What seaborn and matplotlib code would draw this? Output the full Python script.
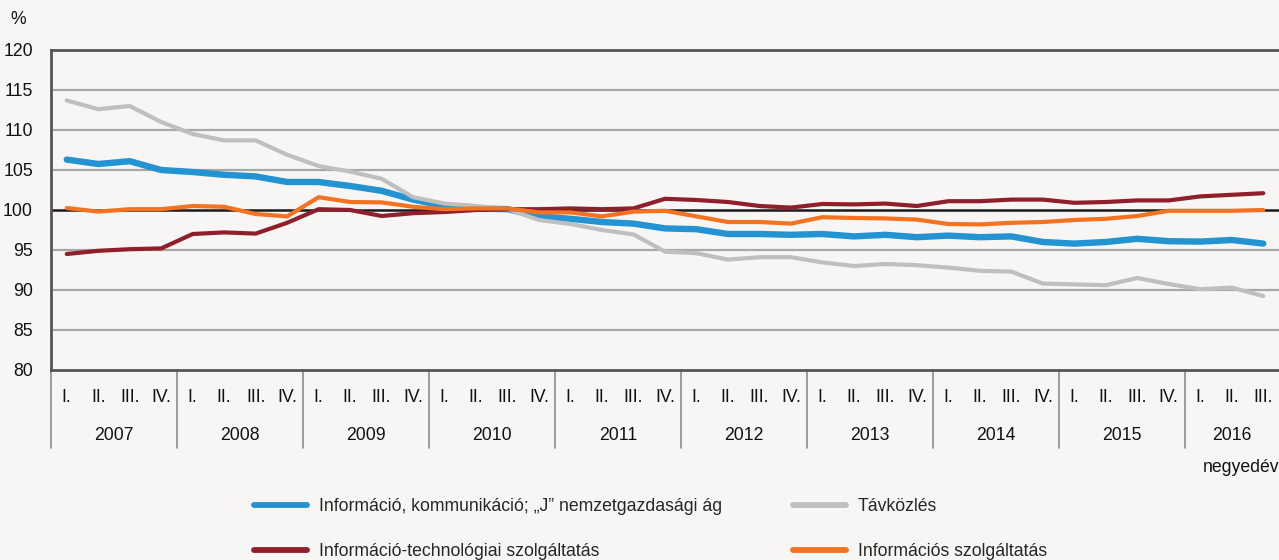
import numpy as np
import pandas as pd
import matplotlib
matplotlib.use('Agg')
import matplotlib.pyplot as plt
from matplotlib.lines import Line2D
from matplotlib import font_manager
import seaborn as sns

# ---- data ----
years = ['2007', '2008', '2009', '2010', '2011', '2012', '2013', '2014', '2015', '2016']
quarter_labels = ['I.', 'II.', 'III.', 'IV.']
n_q = 39  # 2007 I. .. 2016 III.

info_komm = [106.3, 105.75, 106.1, 105.0, 104.75, 104.4, 104.2, 103.5,
             103.5, 103.0, 102.4, 101.3, 100.5, 100.2, 100.1, 99.2,
             98.9, 98.5, 98.3, 97.7, 97.6, 97.0, 97.0, 96.9,
             97.0, 96.7, 96.9, 96.6, 96.8, 96.6, 96.7, 96.0,
             95.8, 96.0, 96.4, 96.1, 96.05, 96.25, 95.8]
tavkozles = [113.7, 112.6, 113.0, 111.0, 109.5, 108.7, 108.7, 106.9,
             105.5, 104.8, 103.9, 101.6, 100.8, 100.5, 100.1, 98.75,
             98.25, 97.5, 96.95, 94.8, 94.6, 93.8, 94.1, 94.1,
             93.45, 93.0, 93.25, 93.1, 92.8, 92.4, 92.3, 90.8,
             90.7, 90.6, 91.5, 90.75, 90.1, 90.3, 89.25]
it_szolg = [94.5, 94.9, 95.1, 95.2, 97.0, 97.2, 97.05, 98.4,
            100.1, 100.0, 99.25, 99.6, 99.75, 100.0, 100.1, 100.1,
            100.2, 100.1, 100.2, 101.4, 101.25, 101.0, 100.5, 100.3,
            100.75, 100.7, 100.8, 100.5, 101.1, 101.1, 101.3, 101.3,
            100.9, 101.0, 101.2, 101.2, 101.7, 101.9, 102.1]
info_szolg = [100.25, 99.8, 100.1, 100.1, 100.5, 100.4, 99.5, 99.2,
              101.6, 101.0, 100.95, 100.4, 100.1, 100.2, 100.2, 99.7,
              99.7, 99.2, 99.8, 99.9, 99.2, 98.5, 98.5, 98.3,
              99.1, 99.0, 98.95, 98.8, 98.25, 98.2, 98.4, 98.5,
              98.75, 98.9, 99.25, 99.9, 99.9, 99.9, 100.0]

series_names = ['Információ, kommunikáció; „J” nemzetgazdasági ág',
                'Távközlés',
                'Információ-technológiai szolgáltatás',
                'Információs szolgáltatás']
series_values = [info_komm, tavkozles, it_szolg, info_szolg]
COLORS = ['#2393D1', '#BDBFC1', '#8E1F2B', '#F37321']
WIDTHS = [4.6, 3.0, 3.0, 3.0]

BG = '#F7F6F4'

# ---- style ----
sns.set_theme(style='white')
avail = {f.name for f in font_manager.fontManager.ttflist}
main_font = 'Liberation Sans Narrow' if 'Liberation Sans Narrow' in avail else 'Liberation Sans'
plt.rcParams['font.family'] = [main_font, 'DejaVu Sans']
FS = 12.7

df = pd.DataFrame({'q': np.tile(np.arange(n_q), 4),
                   'value': np.concatenate(series_values),
                   'series': np.repeat(series_names, n_q)})

fig = plt.figure(figsize=(12.79, 5.6), dpi=100, facecolor=BG)
ax = fig.add_axes([51 / 1279, 190 / 560, 1228 / 1279, 320 / 560])
ax.set_facecolor(BG)

# grid + reference line
for v in range(85, 120, 5):
    ax.axhline(v, color='#A7A8A8' if v != 100 else '#1A1A1A',
               lw=1.6 if v != 100 else 1.8, zorder=1)

draw_order = [1, 0, 2, 3]
for i in draw_order:
    sub = df[df['series'] == series_names[i]]
    sns.lineplot(data=sub, x='q', y='value', color=COLORS[i], lw=WIDTHS[i],
                 ax=ax, legend=False, zorder=3 + i,
                 solid_capstyle='round', solid_joinstyle='round')

ax.set_xlim(-0.5, n_q - 0.5)
ax.set_ylim(80, 120)
ax.set_yticks(range(80, 121, 5))
ax.set_yticklabels([str(v) for v in range(80, 121, 5)], fontsize=FS, color='#111111')
ax.tick_params(axis='y', length=0, pad=13)
ax.set_xticks([])
ax.set_xlabel('')
ax.set_ylabel('')
for side in ['top', 'left', 'bottom']:
    ax.spines[side].set_color('#555555')
    ax.spines[side].set_linewidth(2.0)
ax.spines['right'].set_visible(False)

# category axis: quarters + years
trans = ax.get_xaxis_transform()
for k in range(n_q):
    ax.text(k, -28 / 320, quarter_labels[k % 4], transform=trans, ha='center', va='center',
            fontsize=FS, color='#111111')
for y_i, yr in enumerate(years):
    start = 4 * y_i - 0.5
    end = min(start + 4, n_q - 0.5)
    ax.text((start + end) / 2, -66 / 320, yr, transform=trans, ha='center', va='center',
            fontsize=FS, color='#111111')
    ax.plot([start, start], [0, -78 / 320], transform=trans, color='#8C8C8C', lw=1.2,
            clip_on=False, zorder=2)

fig.text(18 / 1279, 1 - 20 / 560, '%', ha='center', va='center', fontsize=FS, color='#111111')
fig.text(1.0, 1 - 468 / 560, 'negyedév', ha='right', va='center', fontsize=FS, color='#111111')

# legend (two rows)
handles = [Line2D([], [], color=COLORS[i], lw=4.2, solid_capstyle='round') for i in [0, 2, 1, 3]]
labels = [series_names[i] for i in [0, 2, 1, 3]]
fig.legend(handles, labels, ncol=2, loc='upper left', bbox_to_anchor=(245 / 1279, 1 - 489 / 560),
           frameon=False, fontsize=FS, handlelength=3.0, handletextpad=0.7,
           columnspacing=4.0, labelspacing=1.6, borderpad=0)

fig.savefig('out.png', dpi=100, facecolor=BG)
